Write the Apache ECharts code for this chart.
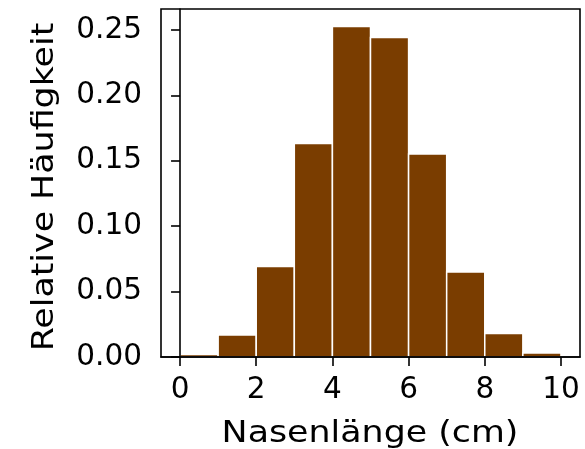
<!DOCTYPE html>
<html>
<head>
<meta charset="utf-8">
<script src="https://cdn.jsdelivr.net/npm/echarts@6/dist/echarts.min.js"></script>
<style>
html,body{margin:0;padding:0;background:#fff;}
#chart{width:585px;height:449px;}
</style>
</head>
<body>
<div id="chart"></div>
<script>
// Histogram bins (cm) and relative frequencies
const binStarts = [0, 1, 2, 3, 4, 5, 6, 7, 8, 9];
const binEnds   = [1, 2, 3, 4, 5, 6, 7, 8, 9, 10];
const relFreq   = [0.002, 0.0168, 0.0692, 0.1632, 0.2526, 0.2442, 0.1551, 0.0649, 0.018, 0.003];
const xTicks = [0, 2, 4, 6, 8, 10];
const yTicks = [0, 0.05, 0.10, 0.15, 0.20, 0.25];
const xTitle = 'Nasenlänge (cm)';
const yTitle = 'Relative Häufigkeit';

const data = binStarts.map((s, i) => [s, binEnds[i], relFreq[i]]);
const FONT = 'DejaVu Sans';

const chart = echarts.init(document.getElementById('chart'), null, {renderer: 'canvas'});
chart.setOption({
  animation: false,
  backgroundColor: '#fff',
  grid: {left: 161, right: 5, top: 9, bottom: 92, show: true, borderColor: '#000', borderWidth: 1.6, backgroundColor: 'transparent', z: 4},
  xAxis: {
    type: 'value', min: -0.5, max: 10.5, z: 5,
    axisLine: {show: true, onZero: false, lineStyle: {color: '#000', width: 1.6}},
    axisTick: {show: true, length: 9, customValues: xTicks, lineStyle: {color: '#000', width: 1.6}},
    axisLabel: {customValues: xTicks, margin: 18, color: '#000', fontFamily: FONT, fontSize: 29.5, formatter: v => String(v)},
    splitLine: {show: false}
  },
  yAxis: {
    type: 'value', min: 0, max: 0.266, z: 5,
    axisLine: {show: true, lineStyle: {color: '#000', width: 1.6}},
    axisTick: {show: true, length: 9, customValues: yTicks, lineStyle: {color: '#000', width: 1.6}},
    axisLabel: {customValues: yTicks, margin: 19, color: '#000', fontFamily: FONT, fontSize: 29.5, formatter: v => v.toFixed(2)},
    splitLine: {show: false}
  },
  graphic: [
    {type: 'text', x: 370, y: 434, scaleX: 1.16, z: 10,
     style: {text: xTitle, font: '30px "DejaVu Sans"', fill: '#000', align: 'center', verticalAlign: 'middle'}},
    {type: 'text', x: 45, y: 187, rotation: Math.PI / 2, scaleX: 1.16, z: 10,
     style: {text: yTitle, font: '30px "DejaVu Sans"', fill: '#000', align: 'center', verticalAlign: 'middle'}}
  ],
  series: [{
    type: 'custom',
    z: 1,
    data: data,
    encode: {x: [0, 1], y: 2},
    renderItem: function (params, api) {
      const p0 = api.coord([api.value(0), api.value(2)]);
      const p1 = api.coord([api.value(1), 0]);
      return {
        type: 'rect',
        shape: {x: p0[0], y: p0[1], width: p1[0] - p0[0], height: p1[1] - p0[1]},
        style: {fill: '#7a3d00', stroke: '#ffffff', lineWidth: 1.5}
      };
    }
  }]
});
</script>
</body>
</html>
